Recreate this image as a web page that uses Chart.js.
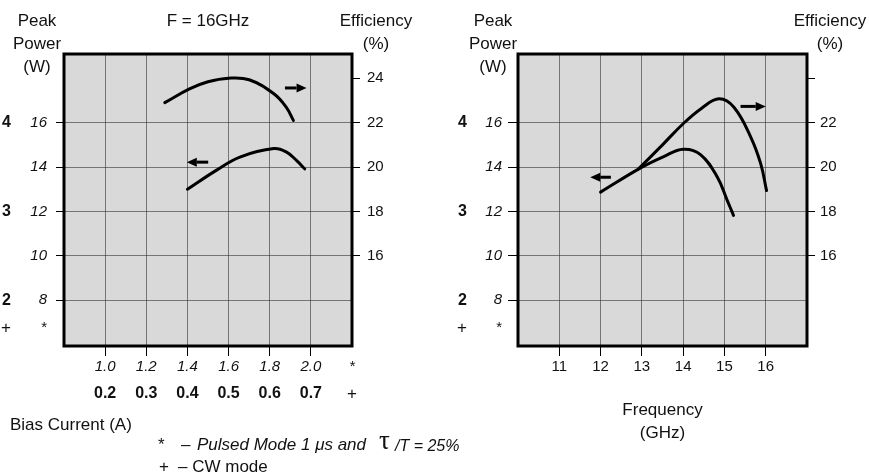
<!DOCTYPE html>
<html><head><meta charset="utf-8">
<script src="https://cdn.jsdelivr.net/npm/chart.js@4/dist/chart.umd.min.js"></script>
<style>
html,body{margin:0;padding:0;background:#fff;}
#wrap{position:relative;width:869px;height:474px;overflow:hidden;font-family:'Liberation Sans',Arial,Helvetica,sans-serif;color:#111;}
canvas{position:absolute;top:0;}
.t{position:absolute;font-size:17px;line-height:23px;white-space:pre;}
.c{text-align:center;transform:translateX(-50%);}
.i{font-style:italic;}
</style></head><body>
<div id="wrap">
<canvas id="c1" width="440" height="474" style="left:0;width:440px;height:474px"></canvas>
<canvas id="c2" width="429" height="474" style="left:440px;width:429px;height:474px"></canvas>
<div class="t c" style="left:37px;top:9px">Peak<br>Power<br>(W)</div>
<div class="t c" style="left:208px;top:9px">F = 16GHz</div>
<div class="t c" style="left:376px;top:9px">Efficiency<br>(%)</div>
<div class="t c" style="left:493px;top:9px">Peak<br>Power<br>(W)</div>
<div class="t c" style="left:830px;top:9px">Efficiency<br>(%)</div>
<div class="t" style="left:10px;top:413px">Bias Current (A)</div>
<div class="t" style="left:158px;top:433px">*</div>
<div class="t" style="left:181px;top:433px">–</div>
<div class="t i" style="left:197px;top:433px">Pulsed Mode 1 μs and</div>
<div class="t" style="left:379px;top:429px;font-family:'Liberation Serif',serif;font-size:27px;">τ</div>
<div class="t i" style="left:395px;top:434px;font-size:16px;">/T = 25%</div>
<div class="t" style="left:159px;top:455px">+</div>
<div class="t" style="left:178px;top:455px">– CW mode</div>
</div>
<script>
// ---------- DATA ----------
// Left panel (F = 16 GHz): bias current (pulsed-mode scale, A)
const biasTickValues = [1.0, 1.2, 1.4, 1.6, 1.8, 2.0, 2.2];
const pulsedCurrentLabels = ['1.0', '1.2', '1.4', '1.6', '1.8', '2.0', '*'];
const cwCurrentLabels = ['0.2', '0.3', '0.4', '0.5', '0.6', '0.7', '+'];
// Peak power (W) vs bias current
const powerBiasX = [1.40, 1.54, 1.655, 1.82, 1.88, 1.93, 1.97];
const powerBiasY = [13.0, 13.85, 14.45, 14.83, 14.68, 14.3, 13.92];
// Efficiency (%) vs bias current
const effBiasX = [1.29, 1.41, 1.50, 1.60, 1.70, 1.82, 1.88, 1.915];
const effBiasY = [22.9, 23.52, 23.84, 24.0, 23.93, 23.3, 22.7, 22.1];

// Right panel: frequency (GHz)
const freqTickValues = [11, 12, 13, 14, 15, 16];
const freqLabels = ['11', '12', '13', '14', '15', '16'];
const powerFreqX = [12.0, 12.97, 13.53, 14.0, 14.42, 14.83, 15.07, 15.22];
const powerFreqY = [12.87, 13.96, 14.47, 14.8, 14.56, 13.54, 12.49, 11.82];
const effFreqX = [12.92, 13.5, 14.0, 14.45, 14.87, 15.23, 15.64, 15.88, 16.02];
const effFreqY = [19.92, 21.0, 21.95, 22.65, 23.07, 22.69, 21.34, 20.14, 18.94];

// Power axis ticks (W): pulsed (italic) and CW (bold)
const pulsedPowerTickValues = [6.75, 8, 10, 12, 14, 16];
const pulsedPowerLabels = ['*', '8', '10', '12', '14', '16'];
const cwPowerTickValues = [6.75, 8, 12, 16];
const cwPowerLabels = ['+', '2', '3', '4'];
// Efficiency axis ticks (%)
const effTickValues = [16, 18, 20, 22, 24];
const effLabelsLeft = ['16', '18', '20', '22', '24'];
const effLabelsRight = ['16', '18', '20', '22', ''];

// Direction arrows (data units): from -> to at a value on the given axis
const biasArrows = [
  {from: 1.874, to: 1.979, val: 23.56, axis: 'y2'},
  {from: 1.501, to: 1.397, val: 14.22, axis: 'y'}
];
const freqArrows = [
  {from: 15.39, to: 16.0, val: 22.73, axis: 'y2'},
  {from: 12.25, to: 11.75, val: 13.54, axis: 'y'}
];

// axis ranges
const powerMin = 5.94, powerMax = 19.09;
const effOffset = 6;  // efficiency axis = power axis + 6

// ---------- RENDER ----------
const FONT = "'Liberation Sans', Arial, Helvetica, sans-serif";
Chart.defaults.font.family = FONT;
Chart.defaults.color = '#111';
const GRID = 'rgba(35,35,35,0.55)';
const NONE = 'rgba(0,0,0,0)';

const pts = (xs, ys) => xs.map((x, i) => ({x, y: ys[i]}));
const setTicks = vals => s => { s.ticks = vals.map(v => ({value: v})); };

const decor = {
  id: 'decor',
  beforeDraw(chart) {
    const {ctx, chartArea: a} = chart;
    ctx.save();
    ctx.fillStyle = '#d9d9d9';
    ctx.fillRect(a.left, a.top, a.right - a.left, a.bottom - a.top);
    ctx.restore();
  },
  afterDatasetsDraw(chart, args, opts) {
    const {ctx, chartArea: a, scales} = chart;
    ctx.save();
    ctx.strokeStyle = '#000'; ctx.fillStyle = '#000';
    (opts.arrows || []).forEach(ar => {
      const x1 = scales.x.getPixelForValue(ar.from);
      const x2 = scales.x.getPixelForValue(ar.to);
      const y = scales[ar.axis].getPixelForValue(ar.val);
      const dir = x2 > x1 ? 1 : -1;
      const head = 10, hw = 4.5;
      ctx.lineWidth = 3;
      ctx.beginPath(); ctx.moveTo(x1, y); ctx.lineTo(x2 - dir * head, y); ctx.stroke();
      ctx.beginPath(); ctx.moveTo(x2, y); ctx.lineTo(x2 - dir * head, y - hw); ctx.lineTo(x2 - dir * head, y + hw); ctx.closePath(); ctx.fill();
    });
    ctx.lineWidth = 3;
    ctx.strokeRect(a.left, a.top, a.right - a.left, a.bottom - a.top);
    ctx.restore();
  }
};

function lineDs(data, axis) {
  return {data, yAxisID: axis, borderColor: '#000', borderWidth: 3, pointRadius: 0,
    tension: 0.4, borderCapStyle: 'round', borderJoinStyle: 'round', fill: false};
}

function makeChart(id, cfg) {
  const italic15 = {family: FONT, size: 15, style: 'italic'};
  const bold16 = {family: FONT, size: 16, weight: 'bold'};
  const scales = {
    x: Object.assign({
      type: 'linear', position: 'bottom', weight: 0, min: cfg.xMin, max: cfg.xMax,
      afterBuildTicks: setTicks(cfg.xTicks),
      afterFit: s => { s.height = cfg.xHeight; },
      ticks: {autoSkip: false, maxRotation: 0, padding: 2, color: '#111', font: cfg.xFont,
        callback: (v, i) => cfg.xLabels[i]},
      grid: {color: c => (c.tick && c.tick.value >= cfg.xMax - 1e-6) ? NONE : GRID,
        tickColor: c => (c.tick && c.tick.value >= cfg.xMax - 1e-6) ? NONE : '#000',
        tickLength: 10, lineWidth: 1},
      border: {display: false}
    }, cfg.xExtra || {}),
    yCW: {
      type: 'linear', position: 'left', weight: 1, min: powerMin, max: powerMax,
      afterBuildTicks: setTicks(cwPowerTickValues),
      afterFit: s => { s.width = cfg.cwWidth; },
      ticks: {autoSkip: false, padding: 5, color: '#111',
        font: c => (c.index === 0 ? {family: FONT, size: 17} : bold16),
        callback: (v, i) => cwPowerLabels[i]},
      grid: {display: false, drawTicks: false},
      border: {display: false}
    },
    y: {
      type: 'linear', position: 'left', weight: 0, min: powerMin, max: powerMax,
      afterBuildTicks: setTicks(pulsedPowerTickValues),
      afterFit: s => { s.width = cfg.yWidth; },
      ticks: {autoSkip: false, padding: cfg.yPad, color: '#111',
        font: c => (c.index === 0 ? {family: FONT, size: 15} : italic15),
        callback: (v, i) => pulsedPowerLabels[i]},
      grid: {color: c => (c.tick && c.tick.value < 7) ? NONE : GRID,
        tickColor: c => (c.tick && c.tick.value < 7) ? NONE : '#000',
        tickLength: cfg.yTick, lineWidth: 1},
      border: {display: false}
    },
    y2: {
      type: 'linear', position: 'right', min: powerMin + effOffset, max: powerMax + effOffset,
      afterBuildTicks: setTicks(effTickValues),
      afterFit: s => { s.width = 40; },
      ticks: {autoSkip: false, padding: cfg.y2Pad, color: '#111', font: {family: FONT, size: 15},
        callback: (v, i) => cfg.effLabels[i]},
      grid: {drawOnChartArea: false, tickColor: '#000', tickLength: 8, lineWidth: 1},
      border: {display: false}
    }
  };
  if (cfg.x2Labels) {
    scales.x2 = {
      type: 'linear', position: 'bottom', weight: 1, min: cfg.xMin, max: cfg.xMax,
      afterBuildTicks: setTicks(cfg.xTicks),
      afterFit: s => { s.height = 22; },
      ticks: {autoSkip: false, maxRotation: 0, padding: 2, color: '#111',
        font: c => (c.index === cfg.xTicks.length - 1 ? {family: FONT, size: 17} : bold16),
        callback: (v, i) => cfg.x2Labels[i]},
      grid: {display: false, drawTicks: false},
      border: {display: false}
    };
  }
  return new Chart(document.getElementById(id), {
    type: 'line',
    data: {datasets: [lineDs(pts(cfg.px, cfg.py), 'y'), lineDs(pts(cfg.ex, cfg.ey), 'y2')]},
    options: {
      responsive: false, animation: false,
      layout: {padding: cfg.padding},
      plugins: {legend: {display: false}, tooltip: {enabled: false}, decor: {arrows: cfg.arrows}},
      scales
    },
    plugins: [decor]
  });
}

makeChart('c1', {
  xMin: 0.8, xMax: 2.2, xTicks: biasTickValues, xLabels: pulsedCurrentLabels,
  xFont: {family: FONT, size: 15, style: 'italic'}, xHeight: 36, x2Labels: cwCurrentLabels,
  cwWidth: 16, yWidth: 48, yPad: 9, yTick: 8, y2Pad: 7, effLabels: effLabelsLeft,
  px: powerBiasX, py: powerBiasY, ex: effBiasX, ey: effBiasY, arrows: biasArrows,
  padding: {left: 0, top: 54, right: 48, bottom: 70}
});

makeChart('c2', {
  xMin: 10, xMax: 17, xTicks: freqTickValues, xLabels: freqLabels,
  xFont: {family: FONT, size: 15}, xHeight: 110,
  xExtra: {title: {display: true, text: ['Frequency', '(GHz)'], color: '#111',
    font: {family: FONT, size: 17, lineHeight: 23 / 17}, padding: {top: 0, bottom: 11}}},
  cwWidth: 32, yWidth: 46, yPad: 6, yTick: 10, y2Pad: 5, effLabels: effLabelsRight,
  px: powerFreqX, py: powerFreqY, ex: effFreqX, ey: effFreqY, arrows: freqArrows,
  padding: {left: 0, top: 54, right: 22, bottom: 18}
});
</script>
</body></html>
